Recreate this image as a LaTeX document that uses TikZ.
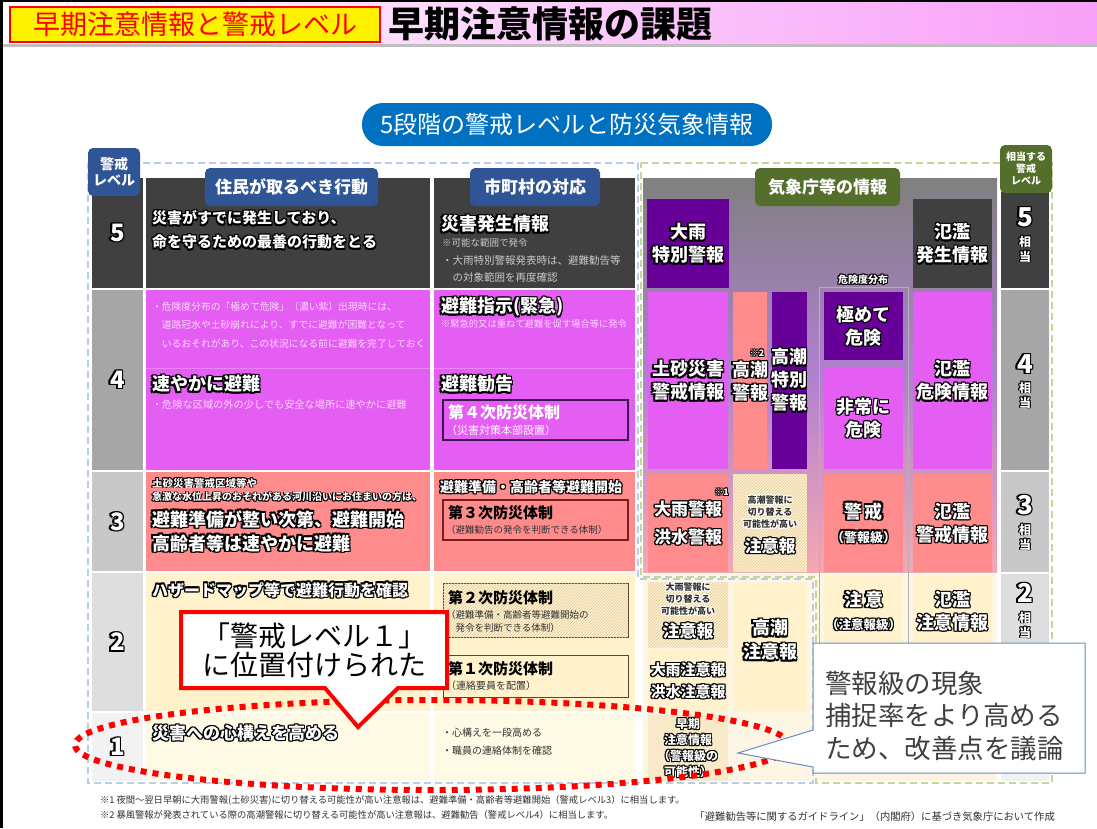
\documentclass[tikz,border=0pt]{standalone}
\usepackage{fontspec}
\setmainfont{Noto Sans CJK JP}
\usetikzlibrary{patterns,shapes.geometric}
\definecolor{dk}{RGB}{64,64,64}
\definecolor{mag}{RGB}{228,94,244}
\definecolor{sal}{RGB}{255,140,140}
\definecolor{ly}{RGB}{255,242,204}
\definecolor{ly2}{RGB}{255,250,230}
\definecolor{dpur}{RGB}{102,0,153}
\definecolor{hblue}{RGB}{47,85,151}
\definecolor{pblue}{RGB}{0,112,192}
\definecolor{oliv}{RGB}{84,110,44}
\definecolor{lv4}{RGB}{166,166,166}
\definecolor{lv3}{RGB}{200,200,200}
\definecolor{lv2}{RGB}{222,222,222}
\definecolor{lv1}{RGB}{242,242,242}
\definecolor{bdash}{RGB}{185,205,235}
\definecolor{gdash}{RGB}{195,215,150}
\definecolor{hatchc}{RGB}{225,200,160}
\definecolor{beige}{RGB}{248,234,200}
\definecolor{pinkt}{RGB}{250,215,250}
\definecolor{ctext}{RGB}{50,50,50}
\definecolor{cbord}{RGB}{100,140,190}
\definecolor{hdrpink}{RGB}{248,160,248}
\definecolor{jmalow}{RGB}{253,246,228}
\definecolor{gtop}{RGB}{128,128,128}
\definecolor{gmid}{RGB}{176,128,208}
\definecolor{gbot}{RGB}{244,168,178}
\definecolor{sep4}{RGB}{238,130,248}
\definecolor{b4bord}{RGB}{60,20,80}
\definecolor{b3bord}{RGB}{120,30,30}
\definecolor{b2bord}{RGB}{90,70,40}
\newcommand{\fs}[2]{\fontsize{#1}{#2}\selectfont}
\newcommand{\outl}[3]{\leavevmode{\setbox0=\hbox{#3}%
\rlap{\color{#1}\kern#2\copy0}\rlap{\color{#1}\kern-#2\copy0}%
\rlap{\color{#1}\raise#2\copy0}\rlap{\color{#1}\lower#2\copy0}%
\rlap{\color{#1}\kern#2\raise#2\copy0}\rlap{\color{#1}\kern-#2\raise#2\copy0}%
\rlap{\color{#1}\kern#2\lower#2\copy0}\rlap{\color{#1}\kern-#2\lower#2\copy0}%
\box0}}
\newcommand{\ob}[1]{\outl{black}{1.2pt}{#1}}
\newcommand{\obs}[1]{\outl{black}{0.8pt}{#1}}
\newcommand{\ow}[1]{\outl{white}{0.8pt}{#1}}
\newcommand{\bxn}[7]{\node[inner sep=0pt,outer sep=0pt,anchor=north west,minimum width={#4-#2},minimum height={#5-#3},#6] (#1) at (#2,#3) {#7};}
\begin{document}
\begin{tikzpicture}[x=1pt,y=-1pt,
 tx/.style={inner sep=0pt,outer sep=0pt,anchor=west},
 ct/.style={inner sep=0pt,outer sep=0pt,align=center},
 jbox/.style={text=white,align=center,font=\bfseries\fs{18}{23}},
 hatch/.style={fill=ly,postaction={pattern=north east lines,pattern color=hatchc}},
 pill/.style={rounded corners=5pt,fill=hblue,text=white,font=\bfseries\fs{17}{17},inner sep=0pt,minimum height=38},
 lvnum/.style={text=white,font=\bfseries\fs{24}{24}},
 eqs/.style={ct,text=white,font=\bfseries\fs{12}{15}},
 bdsh/.style={draw=bdash,line width=2pt,dash pattern=on 7pt off 4pt},
 gdsh/.style={draw=gdash,line width=2pt,dash pattern=on 7pt off 4pt}
]
\useasboundingbox (0,0) rectangle (1097,828);
\fill[white] (0,0) rectangle (1097,828);
% ---------- header
\shade[left color=white,right color=hdrpink] (0,0) rectangle (1097,44);
\draw[gray!50,line width=2.5pt] (0,45.5) -- (1097,45.5);
\draw[black,line width=2pt] (0,1) -- (1097,1);
\draw[black,line width=3pt] (1.5,0) -- (1.5,828);
\bxn{hdrtag}{10}{7}{380}{42}{fill=yellow,draw=red,line width=1.2pt,text=red,font=\fs{27}{30}}{早期注意情報と警戒レベル}
\node[tx,font=\bfseries\fs{36}{40}] (title) at (388,24) {早期注意情報の課題};
% ---------- title pill
\node[fill=pblue,text=white,rounded corners=21pt,minimum width=410,minimum height=43,inner sep=0pt,font=\fs{24}{24}] (title5) at (567,124.5) {5段階の警戒レベルと防災気象情報};
% ---------- level column
\bxn{lv5}{92}{178}{143}{288}{fill=dk,lvnum}{\ob{5}}
\bxn{lv4}{92}{290}{143}{470}{fill=lv4,lvnum}{\ob{4}}
\bxn{lv3}{92}{472}{143}{571}{fill=lv3,lvnum}{\ob{3}}
\bxn{lv2}{92}{573}{143}{711}{fill=lv2,lvnum}{\ob{2}}
\bxn{lv1}{92}{713}{143}{781}{fill=lv1,lvnum}{\ob{1}}
% ---------- resident column
\bxn{res5}{146}{178}{430}{288}{fill=dk}{}
\bxn{res4}{146}{290}{430}{470}{fill=mag}{}
\bxn{res3}{146}{472}{430}{571}{fill=sal}{}
\bxn{res2}{146}{573}{430}{711}{fill=ly}{}
\bxn{res1}{146}{713}{430}{781}{fill=ly2}{}
% ---------- municipality column
\bxn{mun5}{434}{178}{635}{288}{fill=dk}{}
\bxn{mun4}{434}{290}{635}{470}{fill=mag}{}
\bxn{mun3}{434}{472}{635}{571}{fill=sal}{}
\bxn{mun2}{434}{573}{635}{711}{fill=ly}{}
\bxn{mun1}{434}{713}{635}{781}{fill=ly2}{}
\draw[sep4,line width=0.8pt] (res4.west |- 0,368) -- (res4.east |- 0,368);
\draw[sep4,line width=0.8pt] (mun4.west |- 0,368) -- (mun4.east |- 0,368);
% ---------- JMA area background
\shade[top color=gtop,bottom color=gbot,middle color=gmid] (643,178) rectangle (997,572);
\fill[jmalow] (643,574) rectangle (997,781);
% ---------- equivalent level column
\bxn{eq5}{1001}{192}{1049}{288}{fill=dk}{}
\bxn{eq4}{1001}{290}{1049}{470}{fill=lv4}{}
\bxn{eq3}{1001}{472}{1049}{572}{fill=lv3}{}
\bxn{eq2}{1001}{574}{1049}{712}{fill=lv2}{}
\bxn{eq1}{1001}{714}{1049}{781}{fill=lv1}{}
\node[ct,text=white,font=\bfseries\fs{26}{26}] (eq5n) at (1025,217) {\ob{5}};
\node[eqs] (eq5s) at (1025,249) {\obs{相}\\\obs{当}};
\node[ct,text=white,font=\bfseries\fs{26}{26}] (eq4n) at (1025,364) {\ob{4}};
\node[eqs] (eq4s) at (1025,395) {\obs{相}\\\obs{当}};
\node[ct,text=white,font=\bfseries\fs{26}{26}] (eq3n) at (1025,505) {\ob{3}};
\node[eqs] (eq3s) at (1025,537) {\obs{相}\\\obs{当}};
\node[ct,text=white,font=\bfseries\fs{26}{26}] (eq2n) at (1025,593) {\ob{2}};
\node[eqs] (eq2s) at (1025,625) {\obs{相}\\\obs{当}};
% ---------- dashed frames
\draw[bdsh] (88,163) -- (638,163) -- (638,579) -- (813,579) -- (813,783) -- (88,783) -- cycle;
\draw[gdsh] (641,163) -- (1052,163) -- (1052,783) -- (816,783) -- (816,577) -- (641,577) -- cycle;
% ---------- column header pills and tags
\node[pill,minimum width=173] (colres) at (291.5,187) {住民が取るべき行動};
\node[pill,minimum width=130] (colmun) at (535,187) {市町村の対応};
\node[pill,fill=oliv,minimum width=145] (coljma) at (827.5,187) {気象庁等の情報};
\node[ct,rounded corners=5pt,fill=hblue,text=white,minimum width=52,minimum height=48,font=\bfseries\fs{14}{16}] (lvtag) at (114,172) {警戒\\レベル};
\node[ct,rounded corners=5pt,fill=oliv,text=white,minimum width=52,minimum height=48,font=\bfseries\fs{10}{12}] (eqtag) at (1026,169) {相当する\\警戒\\レベル};
% ---------- row 5 texts
\node[tx,align=left,text=white,font=\bfseries\fs{15}{24}] (r5res) at (152,230) {\ob{災害がすでに発生しており、}\\\ob{命を守るための最善の行動をとる}};
\node[tx,text=white,font=\bfseries\fs{18}{18}] (r5mun) at (441,224) {\ob{災害発生情報}};
\node[tx,text=lv3,font=\fs{9.5}{10}] (r5note) at (442,243) {※可能な範囲で発令};
\node[tx,align=left,text=lv3,font=\fs{10.5}{17}] (r5bul) at (442,268.5) {・大雨特別警報発表時は、避難勧告等\\　の対象範囲を再度確認};
% ---------- row 4 texts
\node[tx,align=left,text=pinkt,font=\fs{9.8}{18.5}] (r4bul) at (152,325) {・危険度分布の「極めて危険」（濃い紫）出現時には、\\　道路冠水や土砂崩れにより、すでに避難が困難となって\\　いるおそれがあり、この状況になる前に避難を完了しておく};
\node[tx,text=white,font=\bfseries\fs{18}{18}] (r4res) at (152,384) {\ob{速やかに避難}};
\node[tx,text=pinkt,font=\fs{10.2}{12}] (r4bul2) at (152,405) {・危険な区域の外の少しでも安全な場所に速やかに避難};
\node[tx,text=white,font=\bfseries\fs{18}{18}] (r4mun) at (441,307) {\ob{避難指示(緊急)}};
\node[tx,text=pinkt,font=\fs{9.3}{10}] (r4note) at (441,324) {※緊急的又は重ねて避難を促す場合等に発令};
\node[tx,text=white,font=\bfseries\fs{18}{18}] (r4mun2) at (441,384) {\ob{避難勧告}};
\bxn{b4}{443}{400}{628}{440}{draw=b4bord,line width=1.5pt}{}
\node[tx,text=white,font=\bfseries\fs{16}{16}] (b4t) at (448,412) {第４次防災体制};
\node[tx,text=white,font=\fs{11}{11}] (b4s) at (446,430) {（災害対策本部設置）};
% ---------- row 3 texts
\node[tx,text=white,font=\bfseries\fs{10.5}{11}] (r3a) at (152,483) {\obs{土砂災害警戒区域等や}};
\node[tx,text=white,font=\bfseries\fs{10}{11}] (r3b) at (152,497) {\obs{急激な水位上昇のおそれがある河川沿いにお住まいの方は、}};
\node[tx,align=left,text=white,font=\bfseries\fs{18}{24}] (r3res) at (152,531) {\ob{避難準備が整い次第、避難開始}\\\ob{高齢者等は速やかに避難}};
\node[tx,text=white,font=\bfseries\fs{14}{14}] (r3mun) at (440,487) {\ob{避難準備・高齢者等避難開始}};
\bxn{b3}{443}{500}{628}{540}{draw=b3bord,line width=1.2pt}{}
\node[tx,text=black,font=\bfseries\fs{15}{15}] (b3t) at (448,513) {第３次防災体制};
\node[tx,text=ctext,font=\fs{9.5}{10}] (b3s) at (446,530) {（避難勧告の発令を判断できる体制）};
% ---------- row 2 texts
\node[tx,text=white,font=\bfseries\fs{16}{16}] (r2res) at (152,590) {\ob{ハザードマップ等で避難行動を確認}};
\bxn{b2}{443}{583}{628}{637}{hatch,draw=b2bord,line width=1pt}{}
\node[tx,text=black,font=\bfseries\fs{15}{15}] (b2t) at (448,598) {第２次防災体制};
\node[tx,align=left,text=ctext,font=\fs{9.5}{13}] (b2s) at (446,621) {（避難準備・高齢者等避難開始の\\　発令を判断できる体制）};
\bxn{b1}{443}{655}{628}{697}{draw=b2bord,line width=1pt}{}
\node[tx,text=black,font=\bfseries\fs{15}{15}] (b1t) at (448,669) {第１次防災体制};
\node[tx,text=ctext,font=\fs{10}{10}] (b1s) at (446,686) {（連絡要員を配置）};
% ---------- row 1 texts
\node[tx,text=white,font=\bfseries\fs{17}{17}] (r1res) at (152,733) {\ob{災害への心構えを高める}};
\node[tx,align=left,text=ctext,font=\fs{10}{18}] (r1mun) at (442,742) {・心構えを一段高める\\・職員の連絡体制を確認};
% ---------- JMA boxes
\bxn{jmaSp}{647}{199}{729}{288}{fill=dpur,jbox}{\ob{大雨}\\\ob{特別警報}}
\bxn{jmaFh}{913}{199}{992}{288}{fill=dk,jbox}{\ob{氾濫}\\\ob{発生情報}}
\bxn{riskfr}{819}{287}{908}{712}{draw=gray!60,line width=0.8pt}{}
\node[ct,text=white,font=\bfseries\fs{10}{10}] (risklbl) at (863,280) {\obs{危険度分布}};
\bxn{jmaDs}{648}{292}{728}{469}{fill=mag,jbox}{\ob{土砂災害}\\\ob{警戒情報}}
\bxn{jmaTw}{733}{292}{767}{469}{fill=sal}{}
\node[ct,text=white,font=\bfseries\fs{18}{23}] (jmaTwt) at (750,381) {\ob{高潮}\\\ob{警報}};
\node[ct,text=white,font=\bfseries\fs{9}{9}] (n2) at (757,353) {\obs{※2}};
\bxn{jmaTs}{772}{292}{807}{469}{fill=dpur}{}
\node[ct,text=white,font=\bfseries\fs{18}{23}] (jmaTst) at (789.5,380) {\ob{高潮}\\\ob{特別}\\\ob{警報}};
\bxn{riskA}{824}{292}{903}{360}{fill=dpur,jbox}{\ob{極めて}\\\ob{危険}}
\bxn{riskB}{824}{367}{903}{469}{fill=mag,jbox}{\ob{非常に}\\\ob{危険}}
\bxn{jmaFd}{913}{292}{992}{469}{fill=mag,jbox}{\ob{氾濫}\\\ob{危険情報}}
% row 3
\bxn{jmaHw}{648}{474}{728}{572}{fill=sal,jbox,font=\bfseries\fs{17}{28}}{\ob{大雨警報}\\\ob{洪水警報}}
\node[text=white,font=\bfseries\fs{9}{9},inner sep=0pt,anchor=east] (n1) at (729,492) {\obs{※1}};
\bxn{jmaTc}{733}{474}{807}{572}{hatch}{}
\node[ct,text=ctext,font=\bfseries\fs{9}{12}] (jmaTct) at (770,512) {\ow{高潮警報に}\\\ow{切り替える}\\\ow{可能性が高い}};
\node[ct,text=white,font=\bfseries\fs{17}{17}] (jmaTcn) at (770,546) {\ob{注意報}};
\bxn{riskC}{824}{474}{903}{572}{fill=sal,jbox,font=\bfseries\fs{18}{24}}{\ob{警\,戒}\\\ob{\fs{13}{13}（警報級）}}
\bxn{jmaFw}{913}{474}{992}{572}{fill=sal,jbox}{\ob{氾濫}\\\ob{警戒情報}}
% row 2
\bxn{jmaHc}{648}{582}{728}{647}{hatch}{}
\node[ct,text=ctext,font=\bfseries\fs{9}{12}] (jmaHct) at (688,599) {\ow{大雨警報に}\\\ow{切り替える}\\\ow{可能性が高い}};
\node[ct,text=white,font=\bfseries\fs{17}{17}] (jmaHcn) at (688,631) {\ob{注意報}};
\bxn{jmaHa}{648}{650}{728}{712}{fill=ly,jbox,font=\bfseries\fs{15}{22}}{\ob{大雨注意報}\\\ob{洪水注意報}}
\bxn{jmaTa}{733}{582}{807}{712}{fill=ly}{}
\node[ct,text=white,font=\bfseries\fs{18}{24}] (jmaTat) at (770,640) {\ob{高潮}\\\ob{注意報}};
\bxn{riskD}{824}{576}{903}{712}{fill=ly}{}
\node[ct,text=white,font=\bfseries\fs{18}{23}] (riskDt) at (863.5,611) {\ob{注\,意}\\\ob{\fs{12.5}{12.5}（注意報級）}};
\bxn{jmaFa}{913}{576}{992}{712}{fill=ly}{}
\node[ct,text=white,font=\bfseries\fs{18}{23}] (jmaFat) at (952.5,611) {\ob{氾濫}\\\ob{注意情報}};
% row 1
\bxn{jmaEw}{648}{715}{728}{781}{fill=beige,jbox,font=\bfseries\fs{12}{16}}{\obs{早期}\\\obs{注意情報}\\\obs{（警報級の}\\\obs{可能性）}}
% ---------- red dotted ellipse
\node[draw=red,line width=6pt,dash pattern=on 6pt off 6pt,ellipse,minimum width=714,minimum height=90,inner sep=0pt] (focus) at (432,745) {};
% ---------- callouts
\draw[red,line width=4pt,fill=white,line join=miter] (181,612) -- (447,612) -- (447,688) -- (398,688) -- (358,727) -- (325,688) -- (181,688) -- cycle;
\node[ct,text=black,font=\fs{28}{29}] (callL) at (314,650) {「警戒レベル１」\\に位置付けられた};
\draw[cbord,line width=1pt,fill=white] (813,643) -- (1085,643) -- (1085,773) -- (813,773) -- (813,767) -- (738,753) -- (813,730) -- cycle;
\node[tx,align=left,text=dk,font=\fs{26.5}{32.5}] (callR) at (825,715.5) {警報級の現象\\捕捉率をより高める\\ため、改善点を議論};
% ---------- footnotes
\node[tx,text=ctext,font=\fs{9.3}{10}] (fn1) at (100,800) {※1 夜間～翌日早朝に大雨警報(土砂災害)に切り替える可能性が高い注意報は、避難準備・高齢者等避難開始（警戒レベル3）に相当します。};
\node[tx,text=ctext,font=\fs{9.3}{10}] (fn2) at (100,815) {※2 暴風警報が発表されている際の高潮警報に切り替える可能性が高い注意報は、避難勧告（警戒レベル4）に相当します。};
\node[inner sep=0pt,anchor=east,text=ctext,font=\fs{10.3}{11}] (src) at (1055,817) {「避難勧告等に関するガイドライン」（内閣府）に基づき気象庁において作成};
\end{tikzpicture}
\end{document}
